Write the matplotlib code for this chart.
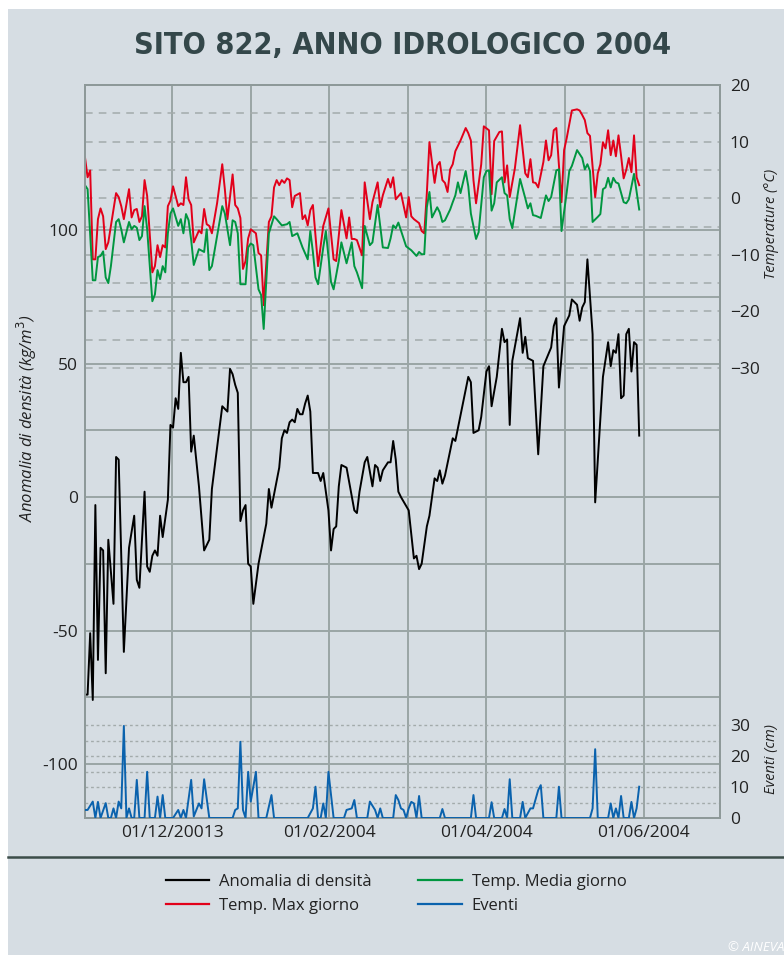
import numpy as np
import matplotlib
matplotlib.use("Agg")
import matplotlib.pyplot as plt
from matplotlib.transforms import blended_transform_factory
from matplotlib.lines import Line2D
from matplotlib.patches import Rectangle

plt.rcParams['font.family'] = ['Open Sans', 'DejaVu Sans']

# days counted from the first measurement
dens_days = [0, 1, 2, 3, 4, 5, 6, 7, 8, 9, 11, 12, 13, 15, 17, 19, 20, 21, 23, 24, 25, 26, 27, 28, 29, 30,
             32, 33, 34, 35, 36, 37, 38, 39, 40, 41, 42, 44, 46, 48, 49, 53, 55, 56, 57, 58, 59, 60, 61, 62,
             63, 64, 65, 67, 70, 71, 72, 75, 76, 77, 78, 79, 80, 81, 82, 83, 84, 85, 86, 87, 88, 89, 90, 91,
             92, 94, 95, 96, 97, 98, 99, 101, 104, 105, 106, 108, 109, 111, 112, 113, 114, 115, 117, 118,
             119, 120, 121, 122, 125, 127, 128, 129, 130, 132, 133, 134, 135, 136, 137, 138, 139, 142, 143,
             148, 149, 150, 152, 153, 155, 156, 157, 159, 161, 162, 163, 164, 165, 168, 169, 170, 171, 173,
             175, 177, 180, 181, 182, 183, 185, 187, 188, 190, 191, 192, 193, 194, 195, 196, 197, 200, 202,
             203, 204, 205, 206, 207, 208, 209, 210, 211, 212, 213, 214]
dens_vals = [-74, -74, -51, -76, -3, -61, -19, -20, -66, -16, -40, 15, 14, -58, -19, -7, -31, -34, 2, -26, -28,
             -22, -20, -22, -7, -15, -1, 27, 26, 37, 33, 54, 43, 43, 45, 17, 23, 4, -20, -16, 3, 34, 32, 48,
             46, 42, 39, -9, -5, -3, -25, -26, -40, -25, -10, 3, -4, 11, 22, 25, 24, 28, 29, 28, 33, 31, 31,
             35, 38, 32, 9, 9, 9, 6, 9, -5, -20, -12, -11, 4, 12, 11, -5, -6, 2, 13, 15, 4, 12, 11, 6, 10,
             13, 13, 21, 14, 2, 0, -5, -23, -22, -27, -25, -11, -7, 0, 7, 6, 10, 5, 8, 22, 21, 45, 43, 24,
             25, 30, 47, 49, 34, 45, 63, 58, 59, 27, 51, 67, 54, 60, 52, 51, 16, 49, 56, 64, 67, 41, 64, 68,
             74, 72, 66, 71, 73, 89, 75, 61, -2, 45, 58, 49, 55, 54, 61, 37, 38, 61, 63, 47, 58, 57, 23]

tmax_days = [0, 1, 2, 3, 4, 5, 6, 7, 8, 9, 10, 12, 13, 14, 15, 17, 18, 19, 20, 21, 22, 23, 24, 26, 27, 28,
             29, 30, 31, 32, 33, 34, 36, 37, 38, 39, 40, 41, 42, 44, 45, 46, 47, 48, 49, 51, 53, 54, 55, 57,
             58, 59, 60, 61, 62, 63, 64, 66, 67, 68, 69, 71, 72, 73, 74, 75, 76, 77, 78, 79, 80, 81, 83, 84,
             85, 86, 87, 88, 90, 92, 94, 96, 97, 99, 101, 102, 103, 104, 105, 107, 108, 110, 111, 113, 114,
             115, 117, 118, 119, 120, 122, 124, 125, 126, 127, 129, 130, 131, 132, 133, 135, 136, 137, 138,
             139, 140, 141, 142, 143, 145, 147, 148, 149, 150, 151, 153, 154, 156, 157, 158, 160, 161, 162,
             163, 164, 166, 168, 170, 171, 172, 173, 174, 175, 177, 178, 179, 180, 181, 182, 184, 185, 186,
             188, 190, 191, 192, 193, 194, 195, 197, 198, 199, 200, 201, 202, 203, 204, 205, 206, 207, 208,
             209, 210, 211, 212, 213, 214]
tmax_vals = [7.2, 3.7, 4.9, -10.8, -10.8, -3.7, -1.8, -3.2, -9.0, -7.8, -4.9, 0.9, 0.2, -1.4, -3.7, 1.6, -3.4,
             -2.1, -1.9, -4.2, -3.2, 3.2, 0.4, -13.1, -12.0, -8.3, -10.4, -8.3, -8.7, -1.4, -0.4, 2.1, -1.4,
             -0.9, -1.2, 3.7, -0.2, -1.2, -7.8, -5.7, -6.2, -1.9, -4.6, -4.9, -6.2, -0.9, 6.0, 1.6, -3.7, 4.2,
             -1.2, -1.8, -3.5, -12.5, -11.1, -7.1, -5.5, -6.2, -9.7, -10.1, -18.9, -4.2, -3.2, 1.9, 3.2, 2.3,
             3.2, 2.7, 3.5, 3.2, -1.6, 0.4, 0.9, -3.7, -3.0, -4.8, -2.1, -1.2, -12.0, -4.9, -1.8, -10.8,
             -11.1, -2.1, -7.1, -3.4, -7.2, -7.2, -7.4, -10.1, 2.8, -3.7, -0.7, 2.8, -1.6, 0.5, 3.4, 1.9, 3.7,
             -0.2, 0.9, -3.4, 0.2, -3.2, -3.7, -4.4, -5.8, -6.2, 0.9, 9.9, 2.7, 5.8, 6.4, 3.2, 2.7, 1.1, 5.1,
             6.0, 8.3, 10.2, 12.4, 11.5, 10.2, 3.2, -0.9, 6.0, 12.7, 12.0, 0.7, 10.1, 11.7, 11.8, 2.8, 5.8,
             0.2, 5.3, 12.9, 4.4, 3.7, 6.9, 2.8, 2.7, 1.9, 6.4, 10.2, 6.7, 7.6, 12.0, 12.4, -0.7, 8.5, 10.6,
             15.5, 15.7, 15.5, 14.7, 13.8, 11.5, 11.0, 0.2, 4.4, 6.0, 9.9, 8.8, 12.0, 7.6, 10.2, 7.4, 11.1,
             7.5, 3.5, 5.0, 7.1, 4.6, 11.1, 3.7, 2.3]

tmed_days = [0, 1, 3, 4, 5, 6, 7, 8, 9, 10, 12, 13, 14, 15, 17, 18, 19, 20, 21, 22, 23, 24, 26, 27, 28, 29,
             30, 31, 32, 33, 34, 36, 37, 38, 39, 40, 41, 42, 44, 46, 47, 48, 49, 51, 53, 54, 56, 57, 58, 59,
             60, 62, 63, 64, 65, 67, 68, 69, 71, 73, 74, 76, 78, 79, 80, 82, 84, 86, 87, 88, 89, 90, 92, 93,
             95, 96, 98, 99, 101, 103, 104, 105, 107, 108, 110, 111, 113, 115, 117, 118, 119, 120, 121, 123,
             124, 126, 128, 129, 130, 131, 132, 133, 134, 136, 137, 138, 139, 141, 142, 143, 144, 145, 147,
             148, 149, 151, 152, 154, 155, 156, 157, 158, 159, 161, 162, 163, 164, 165, 168, 170, 171, 172,
             173, 174, 176, 178, 179, 180, 182, 183, 184, 186, 187, 188, 190, 192, 193, 194, 195, 196, 198,
             199, 200, 201, 202, 203, 204, 205, 206, 208, 209, 210, 212, 214]
tmed_vals = [2.3, 1.6, -14.5, -14.5, -10.4, -10.2, -9.4, -14.0, -15.0, -12.0, -4.2, -3.7, -5.5, -7.8, -4.2,
             -5.5, -4.9, -5.2, -7.4, -6.7, -1.4, -5.5, -18.2, -17.0, -12.7, -14.3, -12.0, -13.1, -6.2, -2.7,
             -1.8, -4.9, -3.7, -6.2, -2.8, -3.9, -7.4, -11.8, -9.0, -9.5, -5.5, -12.7, -12.0, -6.7, -1.4,
             -2.7, -8.3, -3.9, -4.2, -6.2, -15.2, -15.2, -8.7, -8.0, -8.3, -16.1, -17.1, -23.1, -6.2, -3.2,
             -3.7, -4.8, -4.6, -4.2, -6.7, -6.2, -8.7, -10.8, -5.8, -9.5, -14.0, -15.2, -8.7, -5.8, -14.8,
             -16.1, -11.1, -7.8, -11.5, -7.8, -12.0, -13.1, -15.9, -4.9, -8.3, -7.8, -1.2, -8.7, -8.8, -7.1,
             -4.8, -5.3, -4.3, -7.1, -8.5, -9.2, -10.2, -9.5, -9.9, -9.9, -1.6, 1.1, -3.4, -1.6, -2.5, -4.2,
             -3.9, -2.0, -0.7, 0.5, 2.8, 0.9, 4.8, 2.1, -2.7, -7.2, -6.0, 3.7, 4.8, 4.9, -2.2, -0.9, 2.8,
             3.7, 0.9, 0.5, -3.7, -5.3, 3.4, 0.0, -1.8, -0.9, -3.0, -3.1, -3.5, 0.5, -0.5, 0.2, 4.9, 5.1,
             -5.8, 1.0, 4.8, 5.7, 8.5, 7.1, 5.1, 6.0, 4.8, -4.2, -3.3, -2.8, 1.6, 1.9, 3.6, 1.9, 3.6, 2.8,
             2.6, -0.7, -0.9, -0.2, 4.3, -2.0]

ev_days = [0, 1, 3, 4, 5, 6, 8, 9, 10, 11, 12, 13, 14, 15, 16, 17, 18, 19, 20, 21, 23, 24, 25, 27, 28, 29,
           30, 31, 34, 36, 37, 38, 39, 41, 42, 44, 45, 46, 48, 57, 58, 59, 60, 61, 62, 63, 64, 66, 67, 70,
           72, 73, 86, 88, 89, 90, 91, 92, 93, 94, 96, 100, 101, 103, 104, 105, 109, 110, 112, 113, 114,
           115, 119, 120, 121, 122, 123, 124, 125, 126, 127, 128, 129, 130, 137, 138, 139, 149, 150, 151,
           156, 157, 158, 161, 162, 163, 164, 165, 168, 169, 170, 172, 173, 175, 176, 177, 182, 183, 184,
           195, 196, 197, 198, 202, 203, 204, 205, 206, 207, 208, 210, 211, 212, 213, 214]
ev_vals = [2.6, 2.6, 5.3, 0, 5.2, 0, 4.8, 0, 0, 3.1, 0, 5.3, 3.1, 29.7, 0, 3.1, 0, 0, 12.3, 0, 0, 14.9, 0,
           0, 6.9, 0, 7.4, 0, 0, 2.6, 0, 2.6, 0, 12.3, 0.5, 4.7, 3.1, 12.5, 0, 0, 2.6, 3.1, 24.6, 2.6, 0,
           14.9, 5.3, 14.9, 0, 0, 7.4, 0, 0, 3.1, 10.1, 0, 0, 4.7, 0, 14.9, 0, 0, 2.6, 3.1, 5.8, 0, 0, 5.3,
           2.6, 0, 3.1, 0, 0, 7.4, 5.8, 3.1, 2.6, 0, 3.1, 5.2, 4.7, 0, 7.1, 0, 0, 2.9, 0, 0, 7.4, 0, 0,
           5.1, 0, 0, 2.9, 0, 12.5, 0, 0, 5.2, 0, 3.1, 3.1, 9.0, 10.6, 0, 0, 10.1, 0, 0, 3.1, 22.2, 0, 0,
           4.7, 0, 3.1, 0, 7.1, 0, 0, 5.2, 0, 3.1, 10.1]

month_days = [33.6, 64.0, 94.3, 124.7, 155.0, 185.4, 215.8]
month_labels = ['01/12/20013', '', '01/02/2004', '', '01/04/2004', '', '01/06/2004']
dens_ticks = [-100, -50, 0, 50, 100]
dens_grid = [-100, -75, -50, -25, 0, 25, 50, 75, 100]
temp_ticks = [-30, -20, -10, 0, 10, 20]
temp_grid = [-30, -25, -20, -15, -10, -5, 0, 5, 10, 15]
ev_ticks = [0, 10, 20, 30]
ev_grid = [5, 10, 15, 20, 25, 30]

bg = '#d6dde3'
gridc = '#9aa5a5'
textc = '#222222'

fig = plt.figure(figsize=(7.84, 9.55), dpi=100, facecolor='white')
fig.patches.append(Rectangle((8 / 784, 0), 1, 1 - 9 / 955, transform=fig.transFigure,
                             facecolor=bg, edgecolor='none', zorder=-10))

ax = fig.add_axes([85 / 784, 1 - 818 / 955, 635 / 784, 733 / 955])
ax.set_facecolor('none')
axt = ax.twinx()
axe = ax.twinx()

ax.set_xlim(0, 245.2)
ax.set_ylim(-120.2, 154.3)
axt.set_ylim(-109.5, 20)
axe.set_ylim(0, 236.5)

# grids, all drawn under the data
for d in month_days:
    ax.axvline(d, color=gridc, lw=1.4, zorder=1)
for v in dens_grid:
    ax.axhline(v, color=gridc, lw=1.4, zorder=1)
tr_t = blended_transform_factory(ax.transAxes, axt.transData)
for v in temp_grid:
    ax.plot([0, 1], [v, v], transform=tr_t, color='#a3abab', lw=1.1,
            dashes=(5, 4), zorder=1.2)
tr_e = blended_transform_factory(ax.transAxes, axe.transData)
for v in ev_grid:
    ax.plot([0, 1], [v, v], transform=tr_e, color='#a3abab', lw=1.0,
            dashes=(2, 2), zorder=1.2)

ax.plot(dens_days, dens_vals, color='black', lw=1.4, zorder=3)
axt.plot(tmax_days, tmax_vals, color='#e2001a', lw=1.4, zorder=3)
axt.plot(tmed_days, tmed_vals, color='#009640', lw=1.4, zorder=3)
axe.plot(ev_days, ev_vals, color='#0a62ad', lw=1.4, zorder=3)

for a in (ax, axt, axe):
    for s in a.spines.values():
        s.set_color('#8e9999')
        s.set_linewidth(1.4)
    a.tick_params(length=0, labelsize=12.5, labelcolor=textc)

ax.set_xticks(month_days)
ax.set_xticklabels(month_labels)
ax.tick_params(axis='x', pad=5)
ax.set_yticks(dens_ticks)
ax.set_yticklabels([str(v) for v in dens_ticks])
ax.tick_params(axis='y', pad=5)
axt.set_yticks(temp_ticks)
axt.tick_params(axis='y', pad=7)
axe.set_yticks(ev_ticks)
axe.tick_params(axis='y', pad=7)

ax.set_ylabel('Anomalia di densità (kg/m$^3$)', fontsize=12, style='italic', color=textc)
ax.yaxis.set_label_coords(-0.072, 0.545)
axt.set_ylabel('Temperature (°C)', fontsize=10.5, style='italic', color=textc)
axt.yaxis.set_label_coords(1.07, 0.81)
axe.set_ylabel('Eventi (cm)', fontsize=10.5, style='italic', color=textc)
axe.yaxis.set_label_coords(1.07, 0.08)

fig.text(0.513, 1 - 45 / 955, 'SITO 822, ANNO IDROLOGICO 2004', ha='center', va='center',
         fontsize=22, fontweight='bold', fontstretch='condensed', color='#34474a',
         family=['Liberation Sans Narrow', 'DejaVu Sans'])

fig.lines.append(Line2D([8 / 784, 1], [1 - 857 / 955, 1 - 857 / 955], transform=fig.transFigure,
                        color='#3c4d49', lw=1.8))

handles = [Line2D([], [], color='black', lw=1.6),
           Line2D([], [], color='#e2001a', lw=1.6),
           Line2D([], [], color='#009640', lw=1.6),
           Line2D([], [], color='#0a62ad', lw=1.6)]
labels = ['Anomalia di densità', 'Temp. Max giorno', 'Temp. Media giorno', 'Eventi']
fig.legend(handles, labels, ncol=2, loc='center', bbox_to_anchor=(0.505, 1 - 894 / 955),
           frameon=False, fontsize=12, handlelength=2.6, handletextpad=0.6,
           columnspacing=2.8, labelspacing=0.45, labelcolor=textc)

fig.text(0.928, 1 - 947 / 955, '© AINEVA', color='white', fontsize=9.5, style='italic',
         ha='left', va='center')

fig.savefig('out.png', dpi=100, facecolor='white')
